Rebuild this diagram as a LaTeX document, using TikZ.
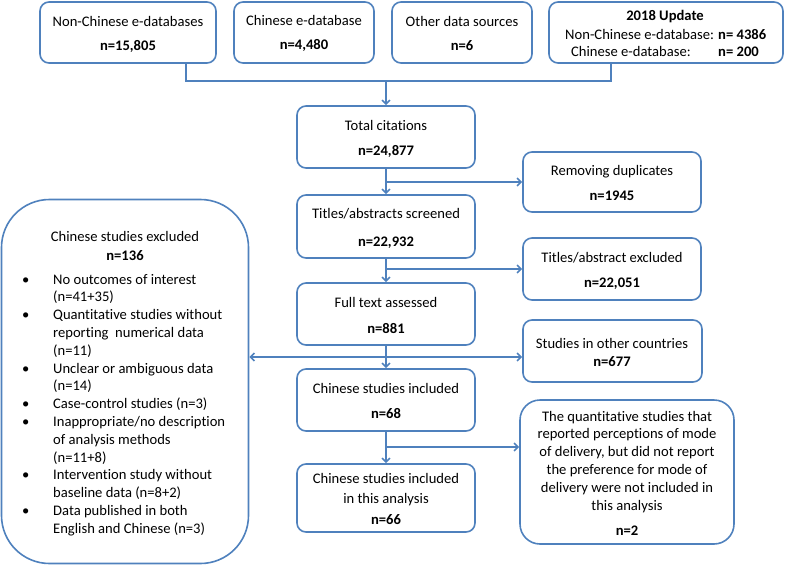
\documentclass[tikz,border=0pt]{standalone}
\usepackage{fontspec}
\setmainfont{Carlito}[Ligatures=CommonOff]
\usetikzlibrary{arrows.meta}
\definecolor{ln}{RGB}{79,129,189}
\begin{document}
\begin{tikzpicture}[x=1pt,y=-1pt,
  box/.style={draw=ln, line width=1.6pt, fill=white, rounded corners=9pt, inner sep=0pt},
  txt/.style={inner sep=0pt, anchor=base, font=\fontsize{14.6}{17.8}\selectfont},
  btxt/.style={txt, font=\fontsize{14.6}{17.8}\selectfont\bfseries},
  conn/.style={draw=ln, line width=1.6pt},
  arr/.style={conn, -{Straight Barb[length=4pt,width=8pt]}},
  darr/.style={conn, {Straight Barb[length=4pt,width=8pt]}-{Straight Barb[length=4pt,width=8pt]}}]
\useasboundingbox (0,0) rectangle (786,565);

% boxes
\node[box, minimum width=176pt, minimum height=61pt] (db1) at (128,32.5) {};
\node[box, minimum width=140pt, minimum height=61pt] (db2) at (304,32.5) {};
\node[box, minimum width=140pt, minimum height=61pt] (db3) at (462,32.5) {};
\node[box, minimum width=234pt, minimum height=61pt] (upd) at (666,32.5) {};
\node[box, minimum width=178pt, minimum height=62pt] (tot) at (386,137) {};
\node[box, minimum width=178pt, minimum height=60pt] (dup) at (612,182) {};
\node[box, minimum width=178pt, minimum height=63pt] (scr) at (386,226.5) {};
\node[box, minimum width=178pt, minimum height=62pt] (exc) at (612,269) {};
\node[box, minimum width=178pt, minimum height=62pt] (ful) at (386,314) {};
\node[box, minimum width=179pt, minimum height=62pt] (oth) at (612.5,351) {};
\node[box, minimum width=178pt, minimum height=62pt] (inc) at (386,400) {};
\node[box, minimum width=178pt, minimum height=68pt] (ana) at (386,498) {};
\node[box, rounded corners=20pt, minimum width=214pt, minimum height=144pt] (qnt) at (627,472) {};
\node[box, rounded corners=48pt, minimum width=247pt, minimum height=364pt] (lft) at (125,381.5) {};

% connectors
\coordinate (j0) at (386,81);
\draw[conn] ([xshift=58pt]db1.south) |- (j0) -| ([xshift=-55pt]upd.south);
\draw[arr] (j0) -- (tot.north);
\coordinate (b1) at (tot.south |- dup.west);
\draw[arr] (tot.south) -- (scr.north);
\draw[arr] (b1) -- (dup.west);
\coordinate (b2) at (scr.south |- exc.west);
\draw[arr] (scr.south) -- (ful.north);
\draw[arr] (b2) -- (exc.west);
\draw[arr] (ful.south) -- (inc.north);
\coordinate (h) at (386,357);
\draw[darr] (lft.east |- h) -- (oth.west |- h);
\draw[arr] (inc.south) -- (ana.north);
\coordinate (b3) at (386,447);
\draw[arr] (b3) -- (qnt.west |- b3);

% texts
\node[txt] (t1a) at (128,26) {Non-Chinese e-databases};
\node[btxt] (t1b) at (128,50) {n=15,805};
\node[txt] (t2a) at (304,25) {Chinese e-database};
\node[btxt] (t2b) at (304,49) {n=4,480};
\node[txt] (t3a) at (462,26) {Other data sources};
\node[btxt] (t3b) at (462,50) {n=6};
\node[btxt] (t4a) at (665,20) {2018 Update};
\node[txt, anchor=base west] (t4b) at (565,39) {Non-Chinese e-database:};
\node[btxt, anchor=base west] (t4c) at (718,39) {n= 4386};
\node[txt, anchor=base west] (t4d) at (571,56) {Chinese e-database:};
\node[btxt, anchor=base west] (t4e) at (718,56) {n= 200};

\node[txt] (t5a) at (386,130) {Total citations};
\node[btxt] (t5b) at (386,155) {n=24,877};
\node[txt] (t6a) at (612,175) {Removing duplicates};
\node[btxt] (t6b) at (612,200) {n=1945};
\node[txt] (t7a) at (386,218) {Titles/abstracts screened};
\node[btxt] (t7b) at (386,246) {n=22,932};
\node[txt] (t8a) at (612,262) {Titles/abstract excluded};
\node[btxt] (t8b) at (612,287) {n=22,051};
\node[txt] (t9a) at (386,307) {Full text assessed};
\node[btxt] (t9b) at (386,333) {n=881};
\node[txt] (t10a) at (612,348) {Studies in other countries};
\node[btxt] (t10b) at (612,366) {n=677};
\node[txt] (t11a) at (386,393) {Chinese studies included};
\node[btxt] (t11b) at (386,418) {n=68};
\node[txt] (t12a) at (386,483) {Chinese studies included};
\node[txt] (t12b) at (386,503) {in this analysis};
\node[btxt] (t12c) at (386,524) {n=66};
\node[txt] (t13a) at (627,421) {\begin{tabular}[t]{@{}c@{}}The quantitative studies that\\ reported perceptions of mode\\ of delivery, but did not report\\ the preference for mode of\\ delivery were not included in\\ this analysis\end{tabular}};
\node[btxt] (t13b) at (627,535) {n=2};
\node[txt] (t14a) at (125,241) {Chinese studies excluded};
\node[btxt] (t14b) at (125,260) {n=136};
\node[txt, anchor=base west] (t14c) at (22,284) {\begin{tabular}[t]{@{}p{31pt}@{}l@{}}
\textbullet & No outcomes of interest\\
 & (n=41+35)\\
\textbullet & Quantitative studies without\\
 & reporting\ \ numerical data\\
 & (n=11)\\
\textbullet & Unclear or ambiguous data\\
 & (n=14)\\
\textbullet & Case-control studies (n=3)\\
\textbullet & Inappropriate/no description\\
 & of analysis methods\\
 & (n=11+8)\\
\textbullet & Intervention study without\\
 & baseline data (n=8+2)\\
\textbullet & Data published in both\\
 & English and Chinese (n=3)
\end{tabular}};
\end{tikzpicture}
\end{document}
